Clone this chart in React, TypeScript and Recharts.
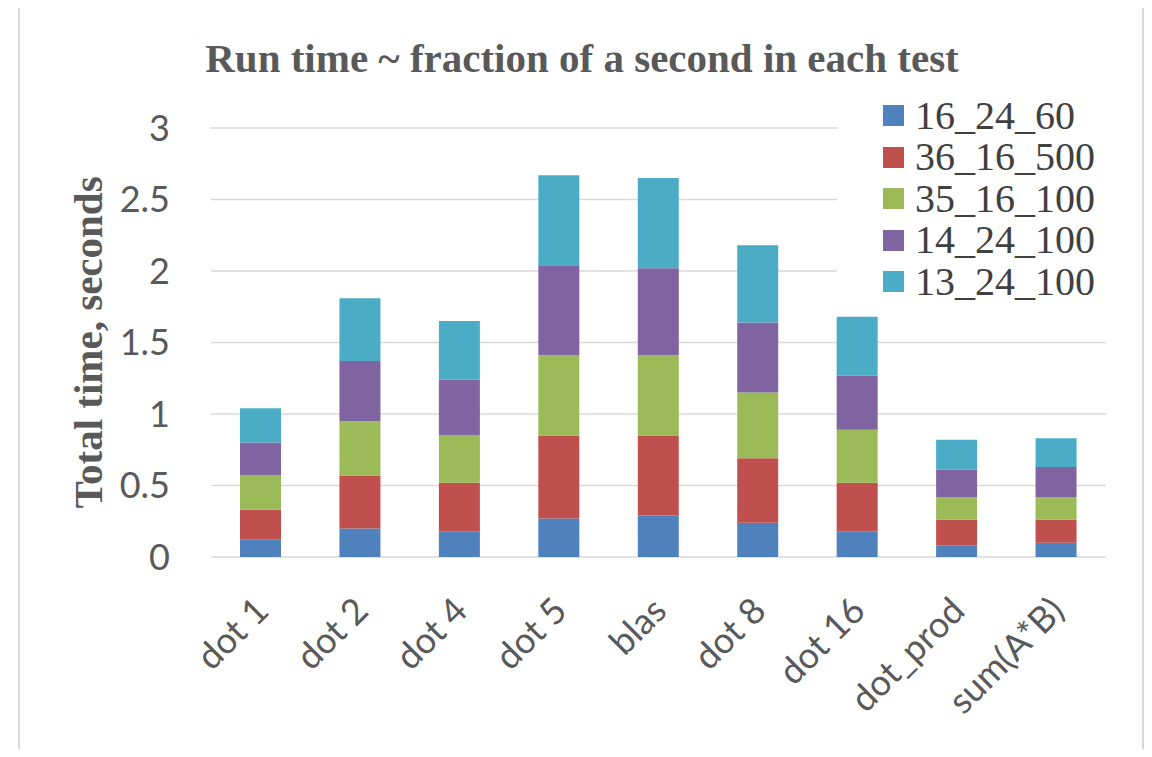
import React from 'react';
import {
  BarChart, Bar, XAxis, YAxis, CartesianGrid, Label,
} from 'recharts';

// Tests on the category axis
const TESTS = ['dot 1', 'dot 2', 'dot 4', 'dot 5', 'blas', 'dot 8', 'dot 16', 'dot_prod', 'sum(A*B)'];

// Run time (seconds) of each configuration, per test
const RUN_16_24_60 = [0.12, 0.2, 0.18, 0.27, 0.29, 0.24, 0.18, 0.08, 0.1];
const RUN_36_16_500 = [0.21, 0.37, 0.34, 0.58, 0.56, 0.45, 0.34, 0.18, 0.16];
const RUN_35_16_100 = [0.24, 0.38, 0.33, 0.56, 0.56, 0.46, 0.37, 0.16, 0.16];
const RUN_14_24_100 = [0.23, 0.42, 0.39, 0.63, 0.61, 0.49, 0.38, 0.19, 0.21];
const RUN_13_24_100 = [0.24, 0.44, 0.41, 0.63, 0.63, 0.54, 0.41, 0.21, 0.2];

const SERIES_NAMES = ['16_24_60', '36_16_500', '35_16_100', '14_24_100', '13_24_100'];
const SERIES_VALUES = [RUN_16_24_60, RUN_36_16_500, RUN_35_16_100, RUN_14_24_100, RUN_13_24_100];
const SERIES_COLORS = ['#4f81bd', '#c0504d', '#9bbb59', '#8064a2', '#4bacc6'];

const Y_TICKS = [0, 0.5, 1, 1.5, 2, 2.5, 3];

const chartData = TESTS.map((test, i) => {
  const row: Record<string, string | number> = { test };
  SERIES_NAMES.forEach((name, s) => {
    row[name] = SERIES_VALUES[s][i];
  });
  return row;
});

const AXIS_FONT = 'Lato, "Liberation Sans", sans-serif';
const SERIF_FONT = '"Liberation Serif", "Times New Roman", serif';

const RotatedTick = (props: any) => {
  const { x, y, payload } = props;
  return (
    <g transform={`translate(${x + 10},${y + 48})`}>
      <text
        textAnchor="end"
        transform="rotate(-45)"
        fill="#595959"
        fontSize={36}
        fontFamily={AXIS_FONT}
      >
        {payload.value}
      </text>
    </g>
  );
};

// legend sits over the top-right corner of the plot, hiding the grid behind it
const LegendBox = () => (
  <div style={{ position: 'absolute', left: 837, top: 95, width: 300, background: '#fff', paddingLeft: 46 }}>
    {SERIES_NAMES.map((name, i) => (
      <div key={name} style={{ display: 'flex', alignItems: 'center', height: 41.5 }}>
        <span style={{ width: 21, height: 21, background: SERIES_COLORS[i], marginRight: 11 }} />
        <span style={{ fontFamily: SERIF_FONT, fontSize: 40, color: '#404040', lineHeight: '40px' }}>{name}</span>
      </div>
    ))}
  </div>
);

const App: React.FC = () => (
  <div style={{ position: 'relative', width: 1152, height: 757, margin: -8, background: '#fff', overflow: 'hidden' }}>
    <div style={{ position: 'absolute', left: 0, top: 0 }}>
      <BarChart
        width={1152}
        height={757}
        data={chartData}
        margin={{ top: 128, right: 46, left: 0, bottom: 0 }}
      >
        <CartesianGrid vertical={false} stroke="#d9d9d9" strokeWidth={1.5} />
        <XAxis
          dataKey="test"
          height={200}
          axisLine={false}
          tickLine={false}
          interval={0}
          tick={<RotatedTick />}
        />
        <YAxis
          width={211}
          domain={[0, 3]}
          ticks={Y_TICKS}
          axisLine={false}
          tickLine={false}
          tickSize={6}
          tickMargin={35}
          tick={{ fill: '#595959', fontSize: 36, fontFamily: AXIS_FONT }}
        >
          <Label
            value="Total time, seconds"
            angle={-90}
            position="insideLeft"
            offset={87}
            style={{
              textAnchor: 'middle', fill: '#595959', fontSize: 41,
              fontWeight: 700, fontFamily: SERIF_FONT,
            }}
          />
        </YAxis>
        {SERIES_NAMES.map((name, i) => (
          <Bar
            key={name}
            dataKey={name}
            stackId="time"
            fill={SERIES_COLORS[i]}
            barSize={41}
            isAnimationActive={false}
          />
        ))}
      </BarChart>
    </div>
    <LegendBox />
    <div
      style={{
        position: 'absolute', left: 0, top: 38, width: 1164, textAlign: 'center',
        fontFamily: SERIF_FONT, fontWeight: 700, fontSize: 41, lineHeight: '41px', color: '#595959',
      }}
    >
      Run time ~ fraction of a second in each test
    </div>
    {/* chart frame */}
    <div
      style={{
        position: 'absolute', left: 18, top: 5, width: 1122, height: 800,
        border: '2px solid #d9d9d9', borderBottom: 'none', pointerEvents: 'none',
      }}
    />
  </div>
);

export default App;
